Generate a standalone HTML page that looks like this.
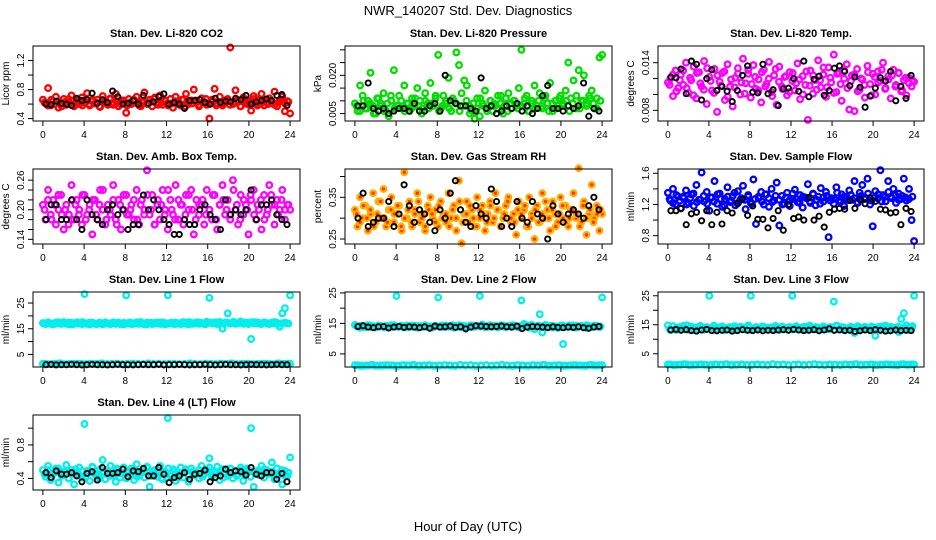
<!DOCTYPE html>
<html><head><meta charset="utf-8"><style>
html,body{margin:0;padding:0;background:#fff;}
svg{display:block;font-family:"Liberation Sans",Arial,sans-serif;}
</style></head><body>
<svg id="chart" width="936" height="540" viewBox="0 0 936 540" xmlns="http://www.w3.org/2000/svg">
<text x="468" y="15" text-anchor="middle" font-size="13">NWR_140207  Std. Dev. Diagnostics</text>
<text x="468" y="531" text-anchor="middle" font-size="13">Hour of Day (UTC)</text>
</svg>
<script>
const xTicks=[0,4,8,12,16,20,24];
const co2Color=[0.66,0.62,0.82,0.58,0.64,0.70,0.55,0.61,0.67,0.59,0.63,0.72,0.57,0.65,0.60,0.69,0.62,0.75,0.58,0.64,0.61,0.66,0.56,0.71,0.63,0.59,0.68,0.62,0.74,0.57,0.65,0.61,0.48,0.67,0.60,0.64,0.70,0.58,0.63,0.76,0.61,0.66,0.57,0.69,0.62,0.72,0.59,0.64,0.61,0.67,0.55,0.70,0.63,0.58,0.66,0.74,0.60,0.65,0.80,0.62,0.57,0.68,0.63,0.59,0.40,0.66,0.81,0.61,0.70,0.58,0.64,0.67,1.38,0.60,0.79,0.63,0.57,0.69,0.62,0.65,0.51,0.71,0.60,0.66,0.74,0.58,0.63,0.68,0.61,0.77,0.57,0.65,0.70,0.50,0.64,0.47];
const co2ColorB=[0.62,0.58,0.66,0.60,0.64,0.57,0.63,0.67,0.59,0.61,0.65,0.58,0.63,0.60,0.66,0.62,0.57,0.64,0.61,0.67,0.59,0.63,0.60,0.65,0.58,0.62,0.66,0.61,0.57,0.64,0.60,0.63,0.67,0.59,0.62,0.65,0.58,0.61,0.64,0.60,0.66,0.57,0.63,0.61,0.65,0.59,0.62,0.67,0.60,0.64,0.58,0.63,0.61,0.66,0.59,0.62,0.65,0.57,0.64,0.60,0.63,0.67,0.58,0.61,0.66,0.60,0.64,0.59,0.62,0.65,0.61,0.63];
const co2Black=[0.60,0.59,0.64,0.61,0.60,0.58,0.68,0.65,0.66,0.75,0.61,0.66,0.62,0.78,0.70,0.60,0.61,0.65,0.60,0.72,0.61,0.63,0.70,0.74,0.60,0.62,0.60,0.54,0.65,0.65,0.66,0.62,0.60,0.68,0.62,0.64,0.63,0.68,0.66,0.72,0.60,0.63,0.65,0.67,0.65,0.72,0.73,0.58];
const presColor=[0.009,0.006,0.016,0.012,0.007,0.010,0.021,0.008,0.005,0.011,0.009,0.013,0.006,0.004,0.010,0.022,0.008,0.012,0.007,0.016,0.009,0.006,0.011,0.008,0.015,0.010,0.007,0.013,0.009,0.017,0.008,0.011,0.028,0.007,0.012,0.009,0.019,0.006,0.010,0.029,0.024,0.013,0.018,0.016,0.008,0.006,0.003,0.011,0.004,0.009,0.014,0.007,0.010,0.006,0.008,0.012,0.009,0.005,0.011,0.013,0.007,0.010,0.008,0.015,0.030,0.009,0.012,0.006,0.010,0.016,0.008,0.013,0.007,0.011,0.009,0.017,0.006,0.010,0.008,0.012,0.009,0.014,0.025,0.011,0.018,0.007,0.022,0.010,0.020,0.009,0.012,0.014,0.007,0.011,0.027,0.028];
const presColorB=[0.008,0.006,0.010,0.007,0.009,0.005,0.011,0.008,0.006,0.009,0.012,0.007,0.008,0.010,0.006,0.009,0.007,0.011,0.008,0.005,0.010,0.007,0.009,0.012,0.006,0.008,0.010,0.007,0.011,0.009,0.006,0.008,0.010,0.005,0.009,0.007,0.011,0.008,0.006,0.010,0.009,0.007,0.012,0.008,0.006,0.009,0.010,0.007,0.008,0.011,0.006,0.009,0.007,0.010,0.008,0.012,0.006,0.009,0.007,0.011,0.008,0.010,0.006,0.009,0.012,0.007,0.010,0.008,0.011,0.009,0.007,0.010];
const presBlack=[0.008,0.008,0.017,0.007,0.006,0.007,0.005,0.006,0.007,0.007,0.006,0.009,0.006,0.006,0.008,0.009,0.006,0.020,0.010,0.009,0.008,0.008,0.007,0.006,0.019,0.007,0.008,0.005,0.006,0.008,0.007,0.009,0.006,0.008,0.005,0.007,0.012,0.016,0.007,0.007,0.006,0.008,0.007,0.008,0.017,0.004,0.007,0.006];
const tempColor=[0.0115,0.0120,0.0098,0.0130,0.0108,0.0125,0.0112,0.0140,0.0102,0.0118,0.0135,0.0095,0.0128,0.0110,0.0142,0.0088,0.0122,0.0105,0.0132,0.0078,0.0116,0.0127,0.0093,0.0138,0.0110,0.0085,0.0121,0.0133,0.0100,0.0145,0.0114,0.0126,0.0096,0.0137,0.0107,0.0119,0.0090,0.0131,0.0113,0.0141,0.0103,0.0124,0.0087,0.0135,0.0110,0.0122,0.0099,0.0128,0.0117,0.0105,0.0139,0.0094,0.0123,0.0112,0.0068,0.0130,0.0101,0.0118,0.0143,0.0109,0.0125,0.0097,0.0134,0.0115,0.0150,0.0103,0.0127,0.0092,0.0120,0.0138,0.0081,0.0124,0.0079,0.0132,0.0106,0.0119,0.0096,0.0136,0.0113,0.0126,0.0100,0.0129,0.0117,0.0140,0.0108,0.0123,0.0095,0.0131,0.0112,0.0127,0.0104,0.0118,0.0099,0.0121,0.0110,0.0116];
const tempColorB=[0.0112,0.0125,0.0104,0.0118,0.0130,0.0108,0.0121,0.0099,0.0127,0.0114,0.0106,0.0133,0.0117,0.0102,0.0124,0.0111,0.0129,0.0097,0.0119,0.0109,0.0126,0.0115,0.0101,0.0131,0.0113,0.0122,0.0105,0.0128,0.0110,0.0120,0.0098,0.0132,0.0116,0.0107,0.0123,0.0103,0.0127,0.0114,0.0119,0.0100,0.0129,0.0111,0.0124,0.0106,0.0118,0.0134,0.0109,0.0121,0.0102,0.0126,0.0113,0.0130,0.0108,0.0117,0.0125,0.0104,0.0120,0.0112,0.0128,0.0099,0.0122,0.0115,0.0131,0.0107,0.0119,0.0124,0.0110,0.0127,0.0105,0.0121,0.0114,0.0118];
const tempBlack=[0.0122,0.0121,0.0132,0.0101,0.0142,0.0138,0.0093,0.0120,0.0131,0.0105,0.0110,0.0104,0.0091,0.0105,0.0124,0.0136,0.0103,0.0102,0.0138,0.0101,0.0106,0.0086,0.0107,0.0108,0.0120,0.0104,0.0142,0.0097,0.0119,0.0123,0.0099,0.0105,0.0133,0.0136,0.0129,0.0111,0.0122,0.0109,0.0084,0.0098,0.0108,0.0121,0.0117,0.0129,0.0092,0.0110,0.0095,0.0124];
const ambColor=[0.21,0.18,0.24,0.19,0.22,0.17,0.20,0.23,0.16,0.21,0.19,0.25,0.18,0.22,0.20,0.17,0.23,0.19,0.21,0.15,0.22,0.18,0.24,0.20,0.17,0.21,0.19,0.25,0.18,0.22,0.16,0.20,0.23,0.19,0.21,0.18,0.24,0.17,0.22,0.20,0.28,0.19,0.23,0.17,0.21,0.18,0.24,0.20,0.16,0.22,0.19,0.25,0.18,0.21,0.17,0.23,0.20,0.24,0.15,0.22,0.19,0.21,0.17,0.24,0.20,0.18,0.23,0.16,0.21,0.25,0.19,0.22,0.18,0.26,0.20,0.17,0.23,0.19,0.21,0.15,0.22,0.24,0.18,0.20,0.16,0.23,0.19,0.25,0.21,0.17,0.22,0.20,0.24,0.18,0.21,0.20];
const ambColorB=[0.20,0.22,0.18,0.21,0.23,0.19,0.20,0.17,0.22,0.21,0.19,0.23,0.18,0.20,0.22,0.19,0.21,0.24,0.18,0.20,0.22,0.17,0.21,0.23,0.19,0.20,0.22,0.18,0.21,0.19,0.23,0.20,0.17,0.22,0.21,0.19,0.24,0.20,0.18,0.22,0.21,0.19,0.23,0.20,0.18,0.21,0.22,0.19,0.20,0.23,0.18,0.21,0.22,0.20,0.19,0.24,0.21,0.18,0.22,0.20,0.23,0.19,0.21,0.22,0.18,0.20,0.23,0.21,0.19,0.22,0.20,0.21];
const ambBlack=[0.18,0.21,0.21,0.18,0.18,0.22,0.18,0.16,0.22,0.19,0.18,0.17,0.20,0.21,0.19,0.20,0.16,0.17,0.17,0.23,0.20,0.22,0.20,0.18,0.17,0.15,0.15,0.18,0.17,0.17,0.20,0.21,0.19,0.18,0.16,0.22,0.19,0.20,0.19,0.20,0.24,0.18,0.21,0.21,0.22,0.19,0.18,0.17];
const rhColor=[0.32,0.28,0.35,0.30,0.33,0.27,0.31,0.36,0.29,0.34,0.30,0.37,0.28,0.32,0.35,0.29,0.31,0.33,0.27,0.41,0.30,0.34,0.28,0.32,0.36,0.29,0.31,0.27,0.33,0.35,0.30,0.32,0.28,0.34,0.31,0.29,0.36,0.30,0.33,0.27,0.39,0.24,0.31,0.34,0.29,0.32,0.28,0.35,0.30,0.33,0.27,0.31,0.34,0.29,0.36,0.32,0.28,0.30,0.33,0.35,0.29,0.31,0.26,0.34,0.30,0.32,0.28,0.35,0.31,0.25,0.33,0.29,0.36,0.30,0.32,0.27,0.34,0.31,0.29,0.35,0.30,0.33,0.28,0.32,0.36,0.30,0.42,0.29,0.34,0.26,0.31,0.38,0.30,0.33,0.27,0.31];
const rhColorB=[0.31,0.29,0.33,0.30,0.32,0.28,0.31,0.34,0.30,0.29,0.32,0.31,0.33,0.28,0.30,0.32,0.29,0.31,0.34,0.30,0.28,0.32,0.31,0.29,0.33,0.30,0.31,0.28,0.32,0.30,0.34,0.29,0.31,0.33,0.30,0.28,0.32,0.31,0.29,0.33,0.30,0.32,0.28,0.31,0.34,0.30,0.29,0.32,0.31,0.33,0.28,0.30,0.32,0.29,0.31,0.34,0.30,0.32,0.28,0.31,0.33,0.29,0.30,0.32,0.31,0.28,0.33,0.30,0.32,0.29,0.31,0.32];
const rhBlack=[0.30,0.36,0.28,0.29,0.30,0.30,0.34,0.28,0.31,0.38,0.33,0.29,0.32,0.31,0.29,0.27,0.32,0.30,0.36,0.39,0.32,0.29,0.28,0.33,0.31,0.30,0.37,0.34,0.28,0.30,0.28,0.34,0.30,0.29,0.34,0.31,0.30,0.25,0.33,0.31,0.29,0.31,0.32,0.31,0.30,0.33,0.35,0.32];
const flowColor=[1.35,1.25,1.40,1.20,1.30,1.15,1.28,1.38,1.22,1.33,1.18,1.45,1.26,1.61,1.24,1.36,1.12,1.29,1.50,1.21,1.34,1.17,1.27,1.42,1.23,1.31,1.19,1.37,1.26,1.44,1.14,1.30,1.22,1.52,0.95,1.28,1.36,1.20,1.33,1.17,1.40,1.25,1.48,0.93,1.31,1.21,1.35,1.18,1.27,1.39,1.23,1.32,1.16,1.29,1.46,1.22,1.34,1.19,1.30,1.41,1.24,1.36,0.78,1.28,1.21,1.42,1.25,1.33,1.18,1.30,1.38,1.26,1.50,1.23,1.35,1.45,1.29,1.53,1.20,0.92,1.37,1.28,1.64,1.32,1.24,1.50,1.30,1.40,1.22,1.34,1.27,1.53,1.25,1.40,1.00,0.73];
const flowColorB=[1.27,1.22,1.32,1.25,1.30,1.20,1.28,1.34,1.23,1.26,1.31,1.21,1.29,1.24,1.33,1.27,1.19,1.30,1.25,1.35,1.22,1.28,1.26,1.32,1.21,1.27,1.30,1.24,1.33,1.28,1.23,1.31,1.26,1.20,1.29,1.25,1.34,1.27,1.22,1.30,1.28,1.24,1.33,1.26,1.21,1.29,1.31,1.25,1.27,1.35,1.23,1.30,1.26,1.32,1.28,1.22,1.31,1.27,1.34,1.25,1.29,1.33,1.24,1.30,1.36,1.28,1.32,1.26,1.31,1.29,1.27,1.30];
const flowBlack=[1.12,1.12,1.15,0.94,1.08,1.10,0.99,1.12,0.94,1.10,0.95,1.12,1.09,1.21,1.27,1.06,1.18,1.01,1.01,0.90,1.02,1.12,0.87,1.20,1.02,1.04,1.00,1.29,1.00,1.05,0.91,1.10,1.14,1.15,1.14,1.25,1.15,1.26,1.21,1.29,1.24,1.14,1.13,1.09,1.10,0.94,1.15,1.11];
const line1Upper=[17.2,16.8,17.5,17.0,16.6,17.4,17.1,16.9,17.6,17.0,16.7,17.3,16.9,17.5,17.2,16.8,28.5,17.1,16.6,17.4,17.0,16.9,17.3,16.7,17.5,17.1,16.8,17.2,16.9,17.4,17.0,16.7,28.0,17.3,16.8,17.1,17.5,16.9,17.2,16.6,17.4,17.0,16.8,17.3,17.1,16.9,17.5,16.7,28.0,17.2,16.9,17.4,17.0,16.8,17.6,17.1,16.7,17.3,17.0,17.5,16.9,17.2,16.8,17.7,27.0,17.4,17.1,16.8,17.6,15.0,17.3,21.0,17.0,17.5,16.9,17.2,17.8,17.0,17.4,16.8,11.0,17.6,17.1,17.3,16.9,17.5,17.2,16.8,17.4,17.0,17.3,15.8,21.0,23.0,17.1,28.0];
const line1UpperB=[17.0,17.3,16.8,17.2,17.5,16.9,17.1,17.4,16.7,17.2,17.0,17.6,16.9,17.3,17.1,16.8,17.4,17.0,17.2,16.9,17.5,17.1,16.8,17.3,17.0,17.4,16.9,17.2,17.6,17.0,16.8,17.3,17.1,17.5,16.9,17.2,17.0,17.4,16.8,17.1,17.3,17.0,17.6,16.9,17.2,17.4,17.1,16.8,17.3,17.0,17.5,17.2,16.9,17.4,17.1,17.7,17.0,17.3,16.9,17.2,17.5,17.1,17.4,16.8,17.3,17.0,17.2,17.6,16.9,17.1,17.3,17.0];
const line1Low=[1.4,1.2,1.3,1.5,1.2,1.3,1.4,1.3,1.2,1.4,1.3,1.5,1.2,1.3,1.4,1.2,1.3,1.4,1.3,1.2,1.5,1.3,1.4,1.2,1.3,1.4,1.2,1.3,1.5,1.3,1.2,1.4,1.3,1.2,1.4,1.3,1.5,1.2,1.3,1.4,1.2,1.3,1.4,1.3,1.2,1.5,1.3,1.4];
const line1Black=[1.0,1.1,0.9,1.0,1.0,1.1,1.0,0.9,1.0,1.1,1.0,1.0,0.9,1.0,1.1,1.0,1.0,0.9,1.0,1.1,1.0,1.0,1.1,0.9,1.0,1.0,1.1,1.0,0.9,1.0,1.0,1.1,1.0,0.9,1.0,1.1,1.0,1.0,0.9,1.0,1.1,1.0,1.0,0.9,1.0,1.1,1.0,1.0];
const line2Upper=[14.5,14.0,13.6,14.2,13.8,14.4,13.9,14.1,13.7,14.3,14.0,13.8,14.2,13.6,14.4,14.0,24.0,13.9,14.1,13.7,14.3,13.8,14.0,14.2,13.6,14.1,13.9,14.4,13.8,14.0,13.7,14.2,23.5,14.1,13.8,14.3,13.9,14.0,13.6,14.2,14.4,13.8,14.1,13.7,14.0,14.3,13.9,14.2,24.0,14.6,13.8,14.1,14.4,13.9,14.2,13.7,14.0,14.3,13.8,14.1,13.9,14.4,14.0,13.7,22.5,14.8,14.2,13.6,14.5,13.1,14.1,18.0,12.0,14.3,13.9,14.1,13.7,14.0,13.5,14.2,8.2,13.8,14.1,13.9,14.3,13.6,14.0,14.2,13.8,13.5,14.1,13.9,14.3,14.0,13.8,23.5];
const line2UpperB=[14.0,14.2,13.8,14.1,14.3,13.9,14.0,14.2,13.7,14.1,14.0,14.4,13.9,14.2,14.0,13.8,14.3,14.0,14.1,13.9,14.3,14.0,13.8,14.2,14.0,14.3,13.9,14.1,14.4,14.0,13.8,14.2,14.0,14.3,13.9,14.1,14.0,14.3,13.8,14.0,14.2,14.0,14.4,13.9,14.1,14.3,14.0,13.8,14.2,14.0,14.3,14.1,13.9,14.3,14.0,14.5,14.0,14.2,13.9,14.1,14.3,14.0,14.3,13.8,14.2,14.0,14.1,14.4,13.9,14.0,14.2,14.0];
const line2Low=[1.3,1.1,1.2,1.4,1.1,1.2,1.3,1.2,1.1,1.3,1.2,1.4,1.1,1.2,1.3,1.1,1.2,1.3,1.2,1.1,1.4,1.2,1.3,1.1,1.2,1.3,1.1,1.2,1.4,1.2,1.1,1.3,1.2,1.1,1.3,1.2,1.4,1.1,1.2,1.3,1.1,1.2,1.3,1.2,1.1,1.4,1.2,1.3];
const line2Black=[14.0,14.2,13.8,13.6,13.9,14.0,13.5,13.8,14.0,13.7,13.9,13.8,13.6,13.9,13.4,14.1,13.8,13.9,14.1,13.7,13.9,13.2,13.8,14.2,14.1,14.0,13.9,14.0,14.1,13.9,13.8,14.1,13.3,13.8,14.0,13.9,13.8,13.6,13.9,13.7,13.6,13.8,13.7,13.9,13.6,13.4,13.8,14.0];
const line3Upper=[14.8,13.2,14.5,13.6,14.1,13.4,14.6,13.8,13.3,14.4,13.7,14.0,13.5,14.3,13.6,14.2,25.0,13.9,13.4,14.1,13.7,14.4,13.5,13.8,14.2,13.3,14.0,13.6,14.3,13.8,13.4,14.1,25.0,13.7,14.2,13.5,13.9,14.3,13.6,13.8,14.1,13.4,14.0,13.7,14.4,13.5,13.9,14.2,25.0,13.6,14.1,13.8,13.4,14.3,13.7,14.0,13.5,14.2,13.8,13.6,14.4,13.9,13.5,14.1,23.0,14.7,13.6,14.2,13.8,13.4,14.0,13.7,12.2,14.1,13.6,13.9,14.3,13.5,13.8,14.2,11.2,13.7,14.4,13.5,14.0,13.8,14.3,13.6,14.1,12.5,17.0,19.0,14.8,13.2,13.8,25.0];
const line3UpperB=[13.5,14.5,13.2,14.2,13.8,14.8,13.4,14.0,13.6,14.6,13.3,14.1,13.9,14.7,13.5,14.3,13.2,14.0,13.7,14.5,13.4,14.2,13.8,14.8,13.3,14.1,13.6,14.4,13.5,14.0,13.9,14.6,13.2,14.3,13.7,14.1,13.4,14.5,13.8,14.2,13.3,14.7,13.6,14.0,13.9,14.4,13.5,14.2,13.2,14.6,13.7,14.1,13.4,14.3,13.8,14.5,13.3,14.0,13.6,14.4,13.9,14.2,13.5,14.7,13.2,14.1,13.8,14.3,13.4,14.0,13.6,14.5];
const line3Low=[1.3,1.1,1.2,1.4,1.1,1.2,1.3,1.2,1.1,1.3,1.2,1.4,1.1,1.2,1.3,1.1,1.2,1.3,1.2,1.1,1.4,1.2,1.3,1.1,1.2,1.3,1.1,1.2,1.4,1.2,1.1,1.3,1.2,1.1,1.3,1.2,1.4,1.1,1.2,1.3,1.1,1.2,1.3,1.2,1.1,1.4,1.2,1.3];
const line3Black=[13.2,13.4,13.1,13.3,13.0,12.8,13.2,13.4,13.0,12.9,13.1,13.2,12.8,13.0,13.3,13.1,13.0,13.2,12.9,13.1,13.0,13.2,13.3,13.1,13.4,13.2,13.0,13.1,13.3,12.9,13.2,13.6,13.1,13.2,13.0,13.1,12.7,12.9,13.2,13.0,13.3,13.1,12.8,12.9,13.2,13.0,13.1,13.0];
const line4Color=[0.50,0.42,0.55,0.38,0.46,0.52,0.35,0.48,0.44,0.56,0.40,0.50,0.33,0.47,0.53,0.41,1.05,0.49,0.37,0.54,0.45,0.42,0.51,0.62,0.39,0.48,0.55,0.43,0.36,0.50,0.46,0.53,0.40,0.47,0.52,0.38,0.57,0.44,0.49,0.41,0.54,0.30,0.46,0.50,0.42,0.55,0.39,0.48,1.12,0.43,0.51,0.37,0.46,0.53,0.41,0.49,0.36,0.52,0.44,0.47,0.40,0.55,0.45,0.50,0.64,0.42,0.48,0.54,0.38,0.51,0.46,0.43,0.52,0.40,0.49,0.45,0.53,0.37,0.47,0.50,1.00,0.30,0.48,0.44,0.55,0.41,0.50,0.46,0.59,0.39,0.52,0.45,0.33,0.49,0.43,0.65];
const line4ColorB=[0.45,0.50,0.41,0.47,0.52,0.43,0.48,0.40,0.46,0.51,0.44,0.49,0.42,0.47,0.53,0.45,0.40,0.48,0.50,0.43,0.46,0.52,0.41,0.47,0.49,0.44,0.51,0.42,0.46,0.48,0.53,0.43,0.45,0.50,0.40,0.47,0.52,0.44,0.49,0.41,0.46,0.51,0.43,0.48,0.45,0.50,0.42,0.47,0.53,0.44,0.46,0.49,0.41,0.51,0.45,0.48,0.43,0.50,0.46,0.52,0.42,0.47,0.49,0.44,0.51,0.45,0.48,0.40,0.46,0.50,0.43,0.47];
const line4Black=[0.47,0.41,0.49,0.45,0.45,0.47,0.43,0.36,0.46,0.48,0.38,0.53,0.46,0.46,0.47,0.51,0.42,0.49,0.48,0.52,0.43,0.43,0.53,0.45,0.35,0.41,0.43,0.47,0.39,0.45,0.46,0.50,0.36,0.41,0.43,0.51,0.47,0.49,0.48,0.44,0.53,0.45,0.43,0.47,0.47,0.39,0.46,0.36];

const svg=document.getElementById('chart');
const NS='http://www.w3.org/2000/svg';
function mk(tag,attrs,parent){const e=document.createElementNS(NS,tag);for(const k in attrs)e.setAttribute(k,attrs[k]);parent.appendChild(e);return e;}
const cols=[{l:33,r:300},{l:345,r:612},{l:658,r:924}];
const rows=[{t:46,b:121},{t:169,b:244},{t:292,b:367},{t:415,b:490}];
const CY='#00eeee';
const panels=[
 {id:'co2',title:'Stan. Dev. Li-820 CO2',ylab:'Licor ppm',c:0,r:0,ymin:0.367,ymax:1.40,ticks:[0.4,0.6,0.8,1.0,1.2],labs:['0.4','','0.8','','1.2'],series:[[co2Color,'#ff0000',0],[co2ColorB,'#ff0000',1],[co2Black,'#000',2]]},
 {id:'pressure',title:'Stan. Dev. Li-820 Pressure',ylab:'kPa',c:1,r:0,ymin:0.0021,ymax:0.0315,ticks:[0.005,0.010,0.015,0.020,0.025,0.030],labs:['0.005','','','0.020','',''],series:[[presColor,'#00dd00',0],[presColorB,'#00dd00',1],[presBlack,'#000',2]]},
 {id:'temp',title:'Stan. Dev. Li-820 Temp.',ylab:'degrees C',c:2,r:0,ymin:0.00666,ymax:0.0161,ticks:[0.008,0.010,0.012,0.014],labs:['0.008','','','0.014'],series:[[tempColor,'#ff00ff',0],[tempColorB,'#ff00ff',1],[tempBlack,'#000',2]]},
 {id:'amb-temp',title:'Stan. Dev. Amb. Box Temp.',ylab:'degrees C',c:0,r:1,ymin:0.1306,ymax:0.2826,ticks:[0.14,0.16,0.18,0.20,0.22,0.24,0.26],labs:['0.14','','','0.20','','','0.26'],series:[[ambColor,'#ff00ff',0],[ambColorB,'#ff00ff',1],[ambBlack,'#000',2]]},
 {id:'rh',title:'Stan. Dev. Gas Stream RH',ylab:'percent',c:1,r:1,ymin:0.238,ymax:0.418,ticks:[0.25,0.30,0.35,0.40],labs:['0.25','','0.35',''],series:[[rhColor,'#ffb000',0],[rhColorB,'#ffb000',1],[rhBlack,'#000',2]]},
 {id:'sample-flow',title:'Stan. Dev. Sample Flow',ylab:'ml/min',c:2,r:1,ymin:0.693,ymax:1.655,ticks:[0.8,1.0,1.2,1.4,1.6],labs:['0.8','','1.2','','1.6'],series:[[flowColor,'#0000ff',0],[flowColorB,'#0000ff',1],[flowBlack,'#000',2]]},
 {id:'line1',title:'Stan. Dev. Line 1 Flow',ylab:'ml/min',c:0,r:2,ymin:0.1,ymax:29.3,ticks:[5,10,15,20,25],labs:['5','','15','','25'],series:[[line1Upper,CY,0],[line1UpperB,CY,1],[line1Low,CY,0],[line1Low,CY,1],[line1Black,'#000',2]]},
 {id:'line2',title:'Stan. Dev. Line 2 Flow',ylab:'ml/min',c:1,r:2,ymin:0.7,ymax:25.3,ticks:[5,10,15,20,25],labs:['5','','15','','25'],series:[[line2Upper,CY,0],[line2UpperB,CY,1],[line2Low,CY,0],[line2Low,CY,1],[line2Black,'#000',2]]},
 {id:'line3',title:'Stan. Dev. Line 3 Flow',ylab:'ml/min',c:2,r:2,ymin:0.43,ymax:26.3,ticks:[5,10,15,20,25],labs:['5','','15','','25'],series:[[line3Upper,CY,0],[line3UpperB,CY,1],[line3Low,CY,0],[line3Low,CY,1],[line3Black,'#000',2]]},
 {id:'line4',title:'Stan. Dev. Line 4 (LT) Flow',ylab:'ml/min',c:0,r:3,ymin:0.262,ymax:1.157,ticks:[0.4,0.6,0.8,1.0],labs:['0.4','','0.8',''],series:[[line4Color,CY,0],[line4ColorB,CY,1],[line4Black,'#000',2]]}
];
panels.forEach(p=>{
 const C=cols[p.c],R=rows[p.r];
 const x0=C.l+(C.r-C.l)*0.04/1.08, x1=C.r-(C.r-C.l)*0.04/1.08;
 const xs=v=>x0+(x1-x0)*v/24;
 const ys=v=>R.b-(R.b-R.t)*(v-p.ymin)/(p.ymax-p.ymin);
 const g=mk('g',{},svg);
 
 
 const t=mk('text',{x:(C.l+C.r)/2,y:R.t-9,'text-anchor':'middle','font-size':'11','font-weight':'bold'},g);
 t.textContent=p.title;
 
 
 const yl=mk('text',{x:0,y:0,'text-anchor':'middle','font-size':'10',transform:'translate('+(C.l-24)+','+((R.t+R.b)/2)+') rotate(-90)'},g);
 yl.textContent=p.ylab;
 
 
 p.series.forEach((s,si)=>{
  const vals=s[0],col=s[1],mode=s[2],n=vals.length;
  const black=col==='#000';
  const sg=mk('g',{},g);
  
  
  vals.forEach((v,i)=>{
   let h;
   if(mode===0)h=i*24/(n-1);
   else if(mode===1)h=(i+0.5)*24/n;
   else h=(i+0.6)*24/(n+0.2);
   const c=mk('circle',{cx:xs(h).toFixed(1),cy:ys(v).toFixed(1),r:black?2.6:2.8,fill:p.id==='rh'&&!black?'#ff3000':'none',stroke:col,'stroke-width':black?1.9:2.3},sg);
   
   
  });
 });
 const box=mk('rect',{x:C.l,y:R.t,width:C.r-C.l,height:R.b-R.t,fill:'none',stroke:'#000','stroke-width':1},g);
 
 
 xTicks.forEach(v=>{
  const x=xs(v);
  const l=mk('line',{x1:x,x2:x,y1:R.b,y2:R.b+5,stroke:'#000'},g);
  
  
  const tx=mk('text',{x:x,y:R.b+17,'text-anchor':'middle','font-size':'10'},g);
  tx.textContent=String(v);
  
  
 });
 p.ticks.forEach((v,i)=>{
  const y=ys(v);
  const l=mk('line',{x1:C.l-5,x2:C.l,y1:y,y2:y,stroke:'#000'},g);
  
  
  if(p.labs[i]){
   const tx=mk('text',{x:0,y:0,'text-anchor':'middle','font-size':'10',transform:'translate('+(C.l-9)+','+y+') rotate(-90)'},g);
   tx.textContent=p.labs[i];
   
   
  }
 });
});
</script>
</body></html>
